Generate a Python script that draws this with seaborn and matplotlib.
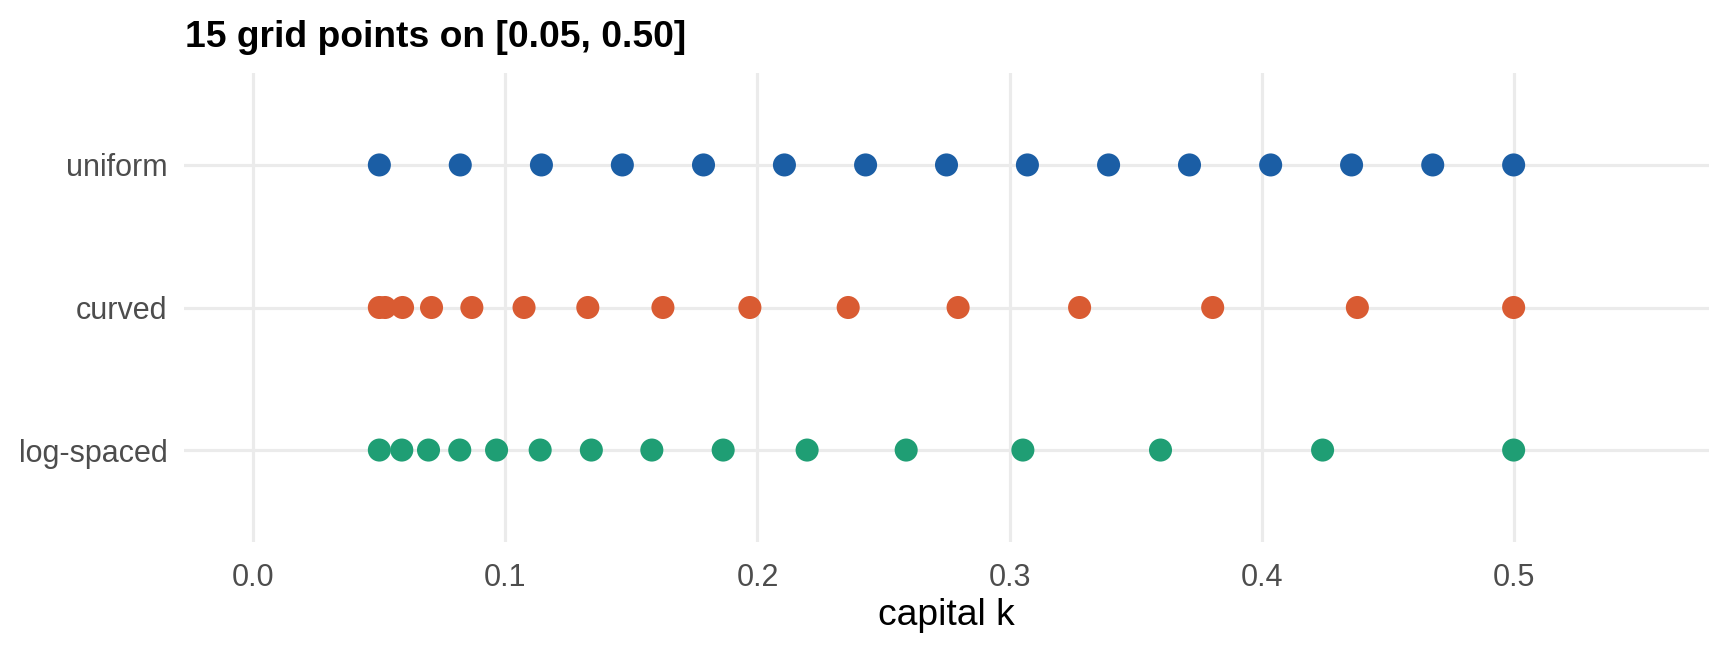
import seaborn as sns
import pandas as pd
import matplotlib.pyplot as plt

# grid values
uniform = [0.05, 0.0821, 0.1143, 0.1464, 0.1786, 0.2107, 0.2429, 0.275,
           0.3071, 0.3393, 0.3714, 0.4036, 0.4357, 0.4679, 0.5]
curved = [0.05, 0.0523, 0.0592, 0.0707, 0.0867, 0.1074, 0.1327, 0.1625,
          0.197, 0.236, 0.2796, 0.3278, 0.3806, 0.438, 0.5]
log_spaced = [0.05, 0.0589, 0.0695, 0.0819, 0.0965, 0.1138, 0.1341, 0.1581,
              0.1864, 0.2197, 0.259, 0.3053, 0.3599, 0.4242, 0.5]
schemes = ['uniform', 'curved', 'log-spaced']
colors = {'uniform': '#1B5EA5', 'curved': '#D95B32', 'log-spaced': '#1F9E74'}
x_ticks = [0.0, 0.1, 0.2, 0.3, 0.4, 0.5]

df = pd.DataFrame({
    'k': uniform + curved + log_spaced,
    'scheme': ['uniform'] * len(uniform) + ['curved'] * len(curved) + ['log-spaced'] * len(log_spaced),
})

sns.set_style('white')
plt.rcParams['font.family'] = ['Liberation Sans', 'DejaVu Sans']

fig = plt.figure(figsize=(8.64, 3.26), dpi=200)
ax = fig.add_axes([184 / 1728, 1 - 542 / 652, (1709 - 184) / 1728, (542 - 73) / 652])

sns.stripplot(data=df, x='k', y='scheme', hue='scheme', order=schemes, hue_order=schemes,
              palette=colors, jitter=False, size=8.3, linewidth=0, legend=False,
              orient='h', ax=ax, zorder=3)

ax.set_xlim(-0.0275, 0.5775)
ax.set_ylim(2.645, -0.645)
ax.set_xticks(x_ticks)
ax.set_xticklabels([f'{t:.1f}' for t in x_ticks])
ax.grid(True, color='#EBEBEB', linewidth=1.15)
ax.set_axisbelow(True)
for s in ax.spines.values():
    s.set_visible(False)
ax.tick_params(axis='both', length=0, labelsize=11, labelcolor='#4D4D4D')
ax.tick_params(axis='x', pad=7.5)
ax.tick_params(axis='y', pad=6)
ax.set_ylabel('')
ax.set_xlabel('capital k', fontsize=13.4, color='black', labelpad=2)

fig.text(185 / 1728, 1 - 47 / 652, '15 grid points on [0.05, 0.50]',
         fontsize=13.4, fontweight='bold', color='black', ha='left', va='baseline')

fig.savefig('out.png', dpi=200, facecolor='white')
